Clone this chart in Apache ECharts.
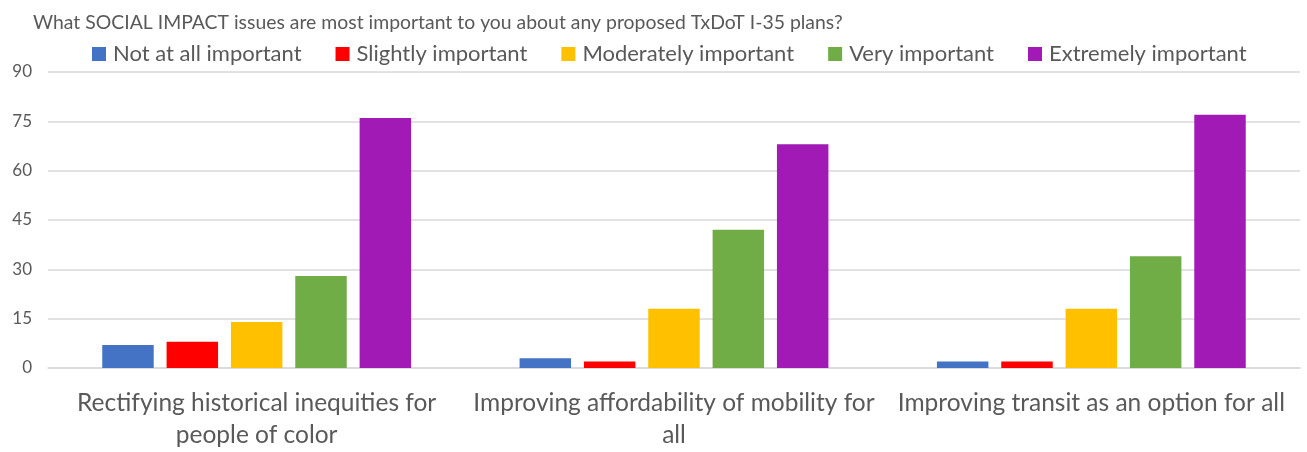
<!DOCTYPE html>
<html>
	<head>
		<meta charset="utf-8" />
		<title>social impact</title>
		<script src="https://cdn.jsdelivr.net/npm/echarts@6/dist/echarts.min.js"></script>
		<style>
			body { margin: 0; background: #fff; }
		</style>
	</head>
	<body>
		<div id="chart" style="width:1307px;height:452px;"></div>
	</body>
	<script type="text/javascript">

	var categories = [
		'Rectifying historical inequities for\npeople of color',
		'Improving affordability of mobility for\nall',
		'Improving transit as an option for all'
	];
	var seriesNames = ['Not at all important', 'Slightly important', 'Moderately important', 'Very important', 'Extremely important'];
	var notAtAll = [7, 3, 2];
	var slightly = [8, 2, 2];
	var moderately = [14, 18, 18];
	var very = [28, 42, 34];
	var extremely = [76, 68, 77];
	var yTicks = [0, 15, 30, 45, 60, 75, 90];

	var colors = ['#4472c4', '#ff0000', '#ffc000', '#70ad47', '#a11ab5'];
	var values = [notAtAll, slightly, moderately, very, extremely];
	var fontFam = 'Lato, sans-serif';

	var myChart = echarts.init(document.getElementById('chart'));

	var series = [];
	for (var i = 0; i < seriesNames.length; i++) {
		series.push({
			name: seriesNames[i],
			type: 'bar',
			barGap: '25%',
			barCategoryGap: '26%',
			itemStyle: { color: colors[i] },
			data: values[i]
		});
	}

	option = {
		backgroundColor: '#fff',
		animation: false,
		title: {
			text: 'What SOCIAL IMPACT issues are most important to you about any proposed TxDoT I-35 plans?',
			left: 28,
			top: 8,
			textStyle: { color: '#595959', fontSize: 19.4, fontWeight: 'normal', fontFamily: fontFam }
		},
		legend: {
			data: seriesNames,
			top: 38,
			left: 87,
			itemWidth: 14,
			itemHeight: 14,
			itemGap: 34,
			icon: 'rect',
			textStyle: { color: '#595959', fontSize: 22, fontFamily: fontFam, padding: [0, 0, 0, 2] }
		},
		grid: {
			left: 48,
			right: 7,
			top: 72,
			height: 296,
			containLabel: false
		},
		xAxis: {
			type: 'category',
			data: categories,
			axisLine: { lineStyle: { color: '#d9d9d9', width: 1.5 } },
			axisTick: { show: false },
			axisLabel: {
				color: '#595959',
				fontSize: 24.5,
				fontFamily: fontFam,
				lineHeight: 32,
				margin: 19,
				interval: 0
			}
		},
		yAxis: {
			type: 'value',
			min: yTicks[0],
			max: yTicks[yTicks.length - 1],
			interval: 15,
			axisLine: { show: false },
			axisTick: { show: false },
			splitLine: { lineStyle: { color: '#d9d9d9', width: 1.5 } },
			axisLabel: { color: '#595959', fontSize: 17, fontFamily: fontFam, margin: 16 }
		},
		series: series
	};
	myChart.setOption(option);

	</script>
</html>
